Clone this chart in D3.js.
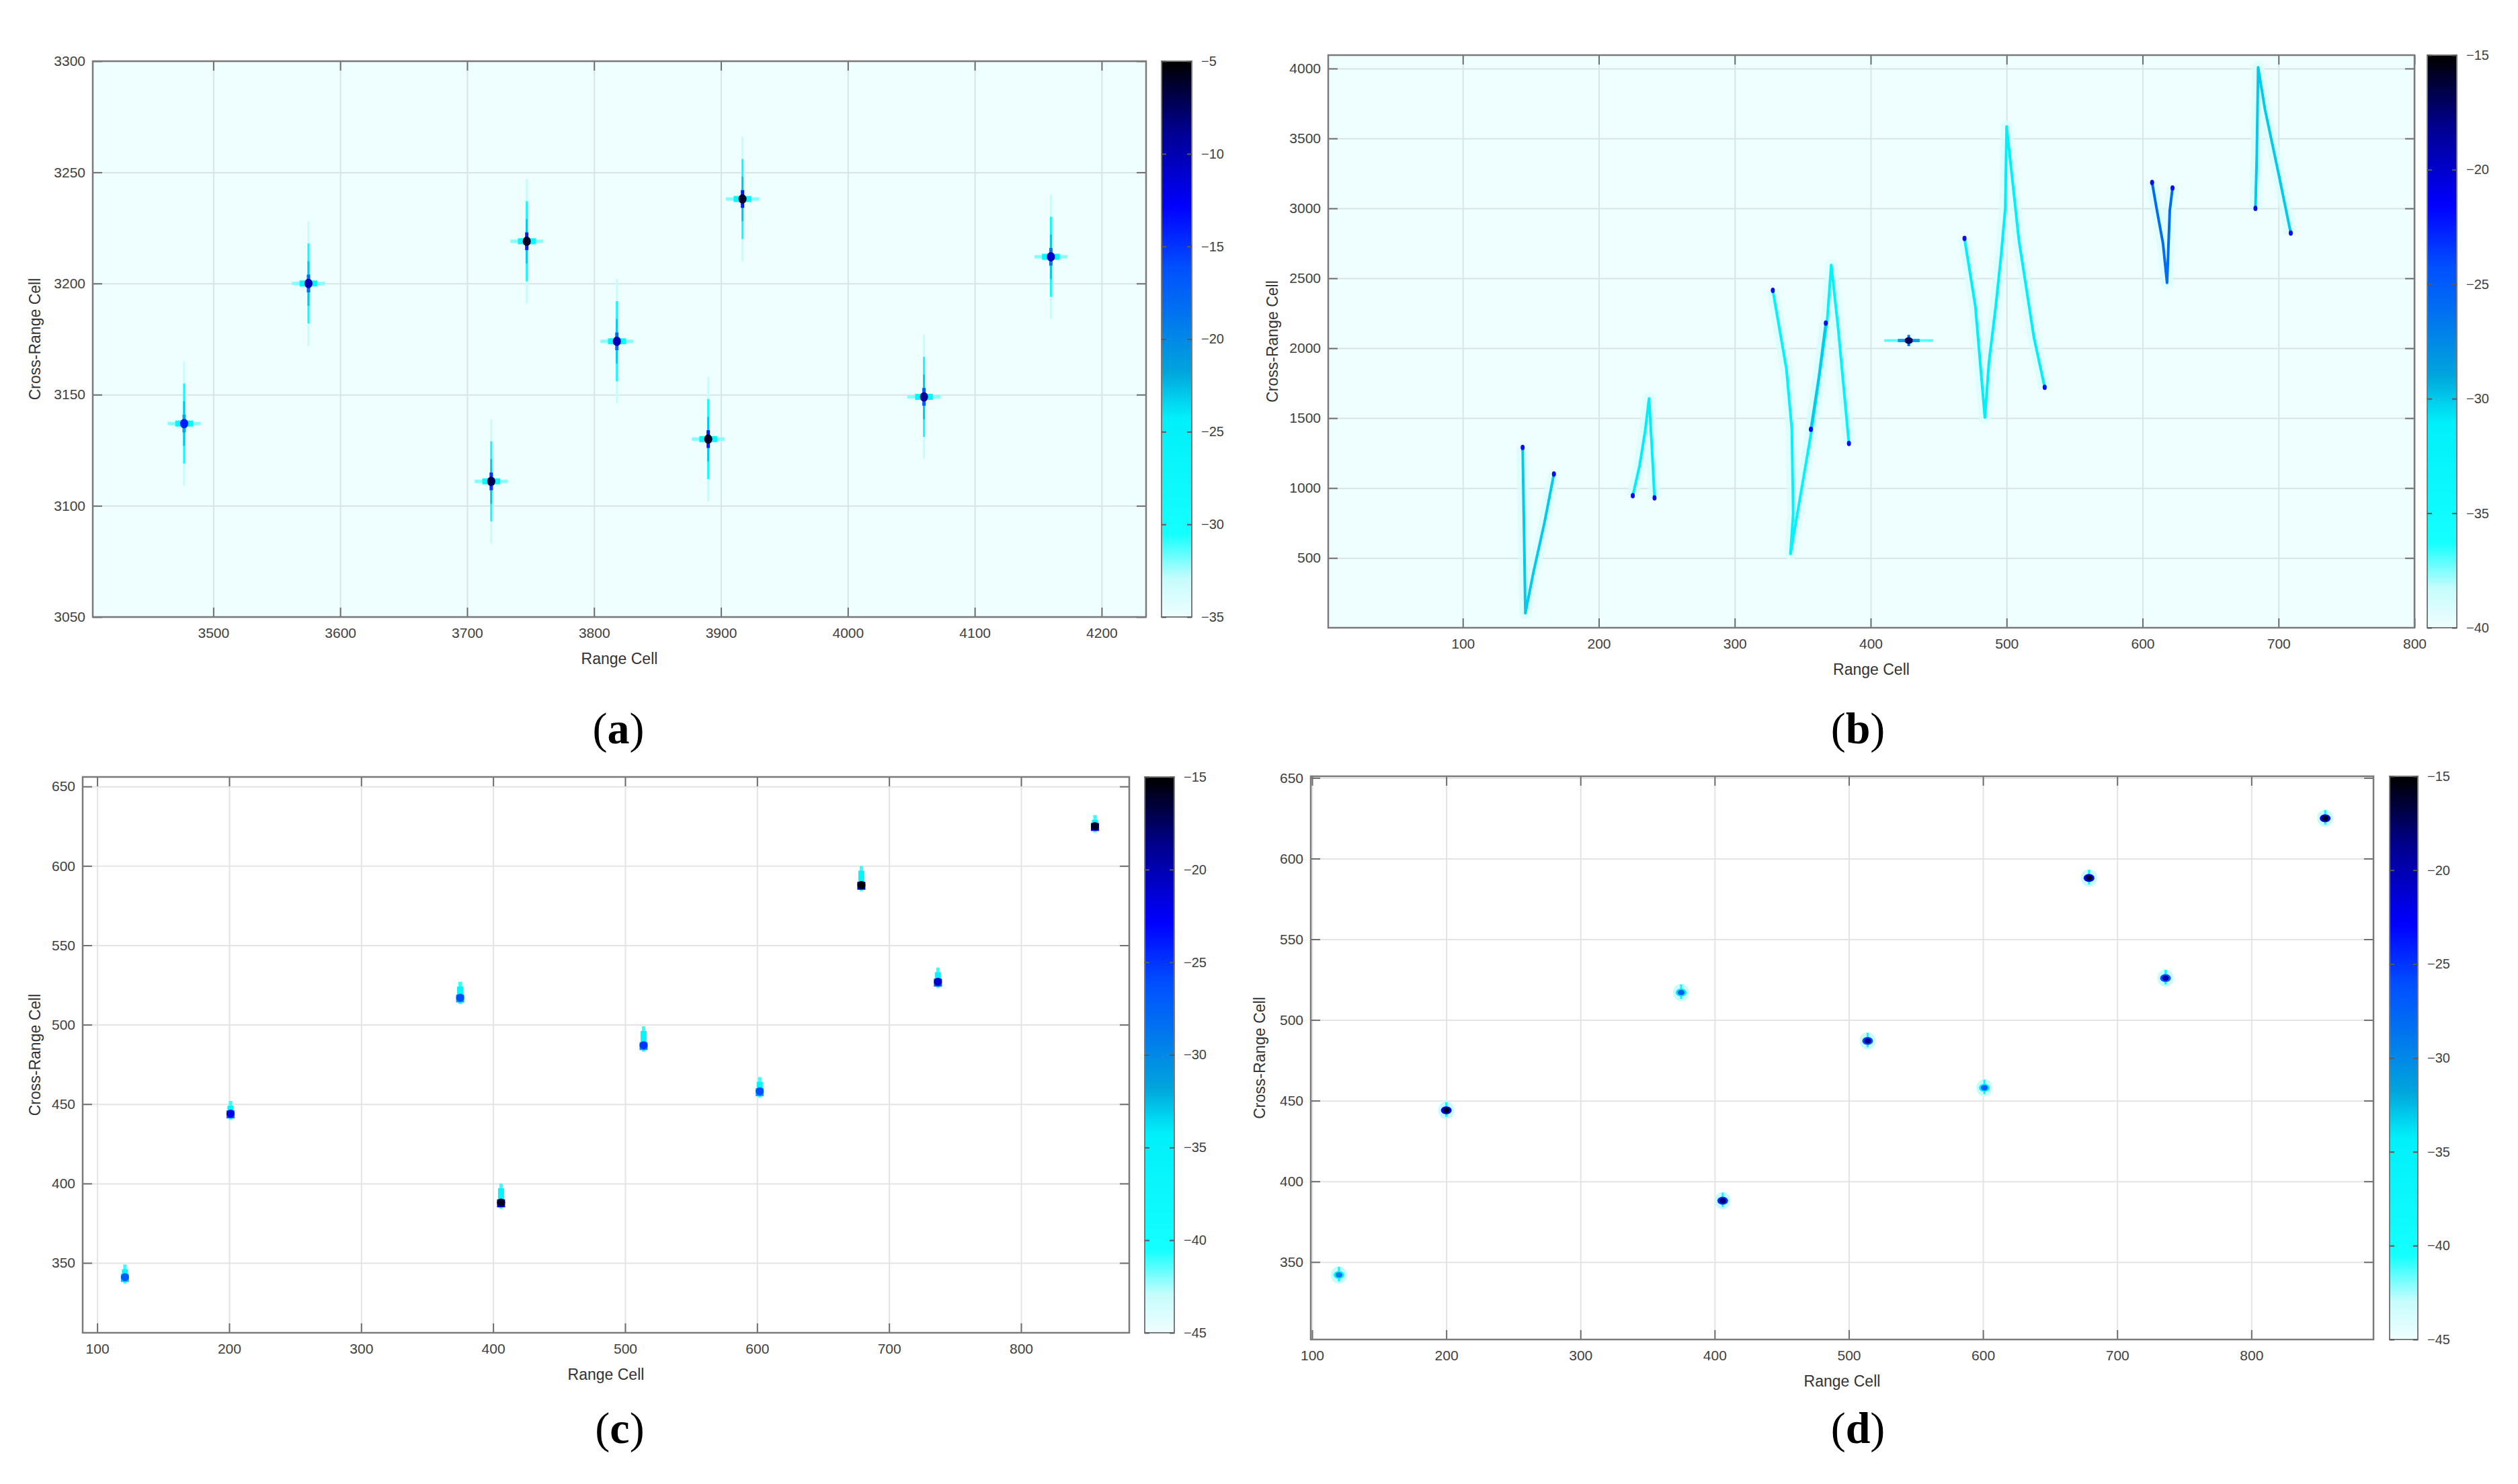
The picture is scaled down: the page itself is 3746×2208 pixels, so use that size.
<!DOCTYPE html>
<html>
<head>
<meta charset="utf-8">
<script src="https://cdn.jsdelivr.net/npm/d3@7"></script>
<style>
body { margin: 0; background: #fff; }
text { font-family: "Liberation Sans", Arial, sans-serif; }
</style>
</head>
<body>
<svg id="fig" width="3746" height="2208"></svg>
<script>
// ---------- values ----------
// (a) nine point targets, full scene
var aRange = [3477, 3575, 3719, 3747, 3818, 3890, 3917, 4060, 4160];
var aCross = [3137, 3200, 3111, 3219, 3174, 3130, 3238, 3149, 3212];
var aPeak  = [-14, -10, -7, -6, -10, -6, -6, -9, -11];

// (b) migrated traces (range cell, cross-range cell) and the one focused target
var bTraces = [
  [[144, 1290], [145, 700], [146, 105], [152, 400], [160, 750], [167, 1100]],
  [[225, 945], [230, 1160], [234, 1400], [237, 1640], [239, 1300], [241, 930]],
  [[328, 2414], [338, 1853], [342, 1422], [343, 819], [341, 529], [357, 1440], [368, 2198], [371, 2595], [376, 2150], [384, 1319]],
  [[356, 1420], [362, 1800], [367, 2180]],
  [[469, 2785], [477, 2300], [484, 1504], [487, 1900], [492, 2300], [496, 2670], [499, 3000], [500, 3585], [509, 2774], [520, 2081], [528, 1720]],
  [[607, 3185], [610, 3016], [615, 2750], [618, 2468], [620, 2984], [622, 3145]],
  [[683, 3000], [684, 3370], [685, 4008], [690, 3710], [700, 3250], [709, 2823]]
];
var bTraceLevel = [-30, -31, -32, -30, -31, -26, -30];
var bPoint = [428, 2055];
var bPointPeak = -17;

// (c) nine targets, first result
var cRange = [121, 201, 375, 406, 514, 602, 679, 737, 856];
var cCross = [341, 444, 517, 388, 487, 458, 588, 527, 625];
var cPeak  = [-27, -22, -26, -16, -25, -26, -15, -21, -16];
var cTail  = [5, 5, 7, 9, 9, 6, 9, 6, 4];

// (d) nine targets, second result
var dRange = [120, 200, 375, 406, 514, 601, 679, 736, 855];
var dCross = [342, 444, 517, 388, 487, 458, 588, 526, 625];
var dPeak  = [-29, -16, -27, -18, -19, -27, -16, -20, -16];

// axis ticks
var aXTicks = [3500, 3600, 3700, 3800, 3900, 4000, 4100, 4200];
var aYTicks = [3050, 3100, 3150, 3200, 3250, 3300];
var bXTicks = [100, 200, 300, 400, 500, 600, 700, 800];
var bYTicks = [500, 1000, 1500, 2000, 2500, 3000, 3500, 4000];
var cdXTicks = [100, 200, 300, 400, 500, 600, 700, 800];
var cdYTicks = [350, 400, 450, 500, 550, 600, 650];
var aCTicks = [-35, -30, -25, -20, -15, -10, -5];
var bCTicks = [-40, -35, -30, -25, -20, -15];
var cdCTicks = [-45, -40, -35, -30, -25, -20, -15];

// ---------- drawing ----------
var svg = d3.select("#fig");
var defs = svg.append("defs");
var fmt = d3.format("d");

// colour map: white-cyan -> cyan -> azure -> blue -> black
function colormap(dom) {
  var t = [0, 0.07, 0.15, 0.36, 0.44, 0.55, 0.63, 0.74, 0.88, 1];
  var cols = ["#f0fefe", "#c6fcfc", "#14ffff", "#00f0fa", "#00a6dc", "#0072f0", "#0050ff", "#0000ff", "#00008c", "#000000"];
  return d3.scaleLinear()
    .domain(t.map(function (v) { return dom[0] + v * (dom[1] - dom[0]); }))
    .range(cols)
    .clamp(true);
}

var panelCount = 0;
function panel(p) {
  panelCount++;
  var x = d3.scaleLinear().domain(p.xDomain).range([p.x0, p.x1]);
  var y = d3.scaleLinear().domain(p.yDomain).range([p.y1, p.y0]);
  var c = colormap(p.cDomain);
  var w = p.x1 - p.x0, h = p.y1 - p.y0;
  var g = svg.append("g");

  g.append("rect").attr("x", p.x0).attr("y", p.y0).attr("width", w).attr("height", h)
    .attr("fill", p.bg);

  // grid
  var grid = g.append("g").attr("class", "grid");
  grid.append("g").attr("transform", "translate(0," + p.y1 + ")")
    .call(d3.axisBottom(x).tickValues(p.xTicks).tickSize(-h).tickFormat(""));
  grid.append("g").attr("transform", "translate(" + p.x0 + ",0)")
    .call(d3.axisLeft(y).tickValues(p.yTicks).tickSize(-w).tickFormat(""));
  grid.selectAll(".domain").remove();
  grid.selectAll("line").attr("stroke", p.gridColor).attr("stroke-width", 2);

  // marks live in a clipped layer
  var id = "clip" + panelCount;
  defs.append("clipPath").attr("id", id).append("rect")
    .attr("x", p.x0).attr("y", p.y0).attr("width", w).attr("height", h);
  var marks = g.append("g").attr("clip-path", "url(#" + id + ")");

  // inside ticks on all four sides
  var tk = g.append("g");
  tk.append("g").attr("transform", "translate(0," + p.y1 + ")")
    .call(d3.axisBottom(x).tickValues(p.xTicks).tickSize(-14).tickFormat(""));
  tk.append("g").attr("transform", "translate(0," + p.y0 + ")")
    .call(d3.axisTop(x).tickValues(p.xTicks).tickSize(-14).tickFormat(""));
  tk.append("g").attr("transform", "translate(" + p.x0 + ",0)")
    .call(d3.axisLeft(y).tickValues(p.yTicks).tickSize(-14).tickFormat(""));
  tk.append("g").attr("transform", "translate(" + p.x1 + ",0)")
    .call(d3.axisRight(y).tickValues(p.yTicks).tickSize(-14).tickFormat(""));
  tk.selectAll(".domain").remove();
  tk.selectAll("line").attr("stroke", "#6e6e6e").attr("stroke-width", 2);

  // tick labels
  var lb = g.append("g");
  lb.append("g").attr("transform", "translate(0," + p.y1 + ")")
    .call(d3.axisBottom(x).tickValues(p.xTicks).tickSize(0).tickPadding(16).tickFormat(fmt));
  lb.append("g").attr("transform", "translate(" + p.x0 + ",0)")
    .call(d3.axisLeft(y).tickValues(p.yTicks).tickSize(0).tickPadding(11).tickFormat(fmt));
  lb.selectAll(".domain").remove();
  lb.selectAll("text").attr("font-size", 21).attr("fill", "#404040")
    .attr("font-family", "Liberation Sans, Arial, sans-serif");

  g.append("rect").attr("x", p.x0).attr("y", p.y0).attr("width", w).attr("height", h)
    .attr("fill", "none").attr("stroke", "#7a7a7a").attr("stroke-width", 2.5);

  // axis titles
  g.append("text").attr("x", (p.x0 + p.x1) / 2).attr("y", p.y1 + 70)
    .attr("text-anchor", "middle").attr("font-size", 23).attr("fill", "#333")
    .text("Range Cell");
  g.append("text")
    .attr("transform", "translate(" + (p.x0 - p.yTitleOff) + "," + ((p.y0 + p.y1) / 2) + ") rotate(-90)")
    .attr("text-anchor", "middle").attr("dominant-baseline", "central")
    .attr("font-size", 23).attr("fill", "#333")
    .text("Cross-Range Cell");

  // colour bar
  var cy = d3.scaleLinear().domain(p.cDomain).range([p.y1, p.y0]);
  var n = 300;
  var steps = d3.range(0, n);
  var cb = g.append("g");
  cb.selectAll("rect").data(steps).enter().append("rect")
    .attr("x", p.cb0).attr("width", p.cb1 - p.cb0)
    .attr("y", function (i) { return cy(p.cDomain[0] + (i + 1) * (p.cDomain[1] - p.cDomain[0]) / n); })
    .attr("height", (h / n) + 1)
    .attr("fill", function (i) { return c(p.cDomain[0] + (i + 0.5) * (p.cDomain[1] - p.cDomain[0]) / n); });
  cb.append("rect").attr("x", p.cb0).attr("y", p.y0).attr("width", p.cb1 - p.cb0).attr("height", h)
    .attr("fill", "none").attr("stroke", "#7a7a7a").attr("stroke-width", 2);
  var cbt = g.append("g");
  var cbr = cbt.append("g").attr("transform", "translate(" + p.cb1 + ",0)")
    .call(d3.axisRight(cy).tickValues(p.cTicks).tickSize(-7).tickPadding(14).tickFormat(fmt));
  cbt.append("g").attr("transform", "translate(" + p.cb0 + ",0)")
    .call(d3.axisLeft(cy).tickValues(p.cTicks).tickSize(-7).tickFormat(""));
  cbt.selectAll(".domain").remove();
  cbt.selectAll("line").attr("stroke", "#5a5a5a").attr("stroke-width", 2);
  cbr.selectAll("text").attr("font-size", 20).attr("fill", "#404040")
    .attr("font-family", "Liberation Sans, Arial, sans-serif");

  // sub-figure label, e.g. (a)
  var t = svg.append("text").attr("x", p.labelX).attr("y", p.labelY)
    .attr("text-anchor", "middle").attr("font-size", 66).attr("fill", "#000")
    .style("font-family", "'Liberation Serif', 'Times New Roman', serif");
  t.append("tspan").text("(");
  t.append("tspan").attr("font-weight", "bold").text(p.label);
  t.append("tspan").text(")");

  return { g: marks, x: x, y: y, c: c };
}

function barV(g, x, y, r, c0, c1, wpx, col) {
  g.append("rect").attr("x", x(r) - wpx / 2).attr("width", wpx)
    .attr("y", y(c1)).attr("height", y(c0) - y(c1)).attr("fill", col);
}
function barH(g, x, y, r0, r1, cc, hpx, col) {
  g.append("rect").attr("x", x(r0)).attr("width", x(r1) - x(r0))
    .attr("y", y(cc) - hpx / 2).attr("height", hpx).attr("fill", col);
}
function blob(g, x, y, r, cc, rx, ry, col) {
  g.append("ellipse").attr("cx", x(r)).attr("cy", y(cc)).attr("rx", rx).attr("ry", ry).attr("fill", col);
}

// ---- (a) ----
var pa = panel({
  x0: 138, x1: 1705, y0: 91, y1: 918, cb0: 1728, cb1: 1773,
  xDomain: [3405, 4235], yDomain: [3050, 3300], cDomain: [-35, -5],
  xTicks: aXTicks, yTicks: aYTicks, cTicks: aCTicks,
  bg: "#effefe", gridColor: "#d6e6e6", yTitleOff: 86,
  label: "a", labelX: 920, labelY: 1106
});
aRange.forEach(function (r, i) {
  var cc = aCross[i], g = pa.g, x = pa.x, y = pa.y, c = pa.c;
  barV(g, x, y, r, cc - 28, cc + 28, 3, c(-33));
  barV(g, x, y, r, cc - 18, cc + 18, 3, c(-29));
  barV(g, x, y, r, cc - 10, cc + 10, 3, c(-23));
  barH(g, x, y, r - 13, r + 13, cc, 5, c(-32));
  barH(g, x, y, r - 7, r + 7, cc, 9, c(-27));
  barV(g, x, y, r, cc - 4, cc + 4, 5, c(aPeak[i] - 8));
  blob(g, x, y, r, cc, 6, 7, c(aPeak[i]));
});

// ---- (b) ----
var pb = panel({
  x0: 1976, x1: 3592, y0: 82, y1: 934, cb0: 3611, cb1: 3655,
  xDomain: [1, 800], yDomain: [1, 4096], cDomain: [-40, -15],
  xTicks: bXTicks, yTicks: bYTicks, cTicks: bCTicks,
  bg: "#effefe", gridColor: "#d6e6e6", yTitleOff: 83,
  label: "b", labelX: 2764, labelY: 1106
});
var line = d3.line()
  .x(function (d) { return pb.x(d[0]); })
  .y(function (d) { return pb.y(d[1]); });
bTraces.forEach(function (tr, i) {
  pb.g.append("path").attr("d", line(tr)).attr("fill", "none")
    .attr("stroke", pb.c(-39)).attr("stroke-width", 18).attr("stroke-linejoin", "round")
    .attr("opacity", 0.7);
});
bTraces.forEach(function (tr, i) {
  pb.g.append("path").attr("d", line(tr)).attr("fill", "none")
    .attr("stroke", pb.c(bTraceLevel[i])).attr("stroke-width", 4).attr("stroke-linejoin", "round");
  [tr[0], tr[tr.length - 1]].forEach(function (d) {
    blob(pb.g, pb.x, pb.y, d[0], d[1], 3, 4, pb.c(-22));
  });
});
barH(pb.g, pb.x, pb.y, bPoint[0] - 18, bPoint[0] + 18, bPoint[1], 4, pb.c(-37));
barH(pb.g, pb.x, pb.y, bPoint[0] - 8, bPoint[0] + 8, bPoint[1], 5, pb.c(-29));
barV(pb.g, pb.x, pb.y, bPoint[0], bPoint[1] - 40, bPoint[1] + 40, 4, pb.c(-26));
blob(pb.g, pb.x, pb.y, bPoint[0], bPoint[1], 6, 5, pb.c(bPointPeak));

// ---- (c) ----
var pc = panel({
  x0: 123, x1: 1680, y0: 1156, y1: 1983, cb0: 1703, cb1: 1747,
  xDomain: [89, 882], yDomain: [306, 656], cDomain: [-45, -15],
  xTicks: cdXTicks, yTicks: cdYTicks, cTicks: cdCTicks,
  bg: "#ffffff", gridColor: "#e4e4e4", yTitleOff: 71,
  label: "c", labelX: 922, labelY: 2147
});
cRange.forEach(function (r, i) {
  var cc = cCross[i], g = pc.g, x = pc.x, y = pc.y, c = pc.c;
  barV(g, x, y, r, cc - 4, cc + cTail[i] + 3, 5, c(-41));
  barV(g, x, y, r, cc - 2, cc + cTail[i], 9, c(-36));
  barV(g, x, y, r, cc - 3, cc + 2, 12, c(cPeak[i] - 6));
  blob(g, x, y, r, cc, 6, 6, c(cPeak[i]));
});

// ---- (d) ----
var pd = panel({
  x0: 1950, x1: 3531, y0: 1155, y1: 1993, cb0: 3555, cb1: 3597,
  xDomain: [99, 891], yDomain: [302, 651], cDomain: [-45, -15],
  xTicks: cdXTicks, yTicks: cdYTicks, cTicks: cdCTicks,
  bg: "#ffffff", gridColor: "#e4e4e4", yTitleOff: 76,
  label: "d", labelX: 2764, labelY: 2147
});
dRange.forEach(function (r, i) {
  var cc = dCross[i], g = pd.g, x = pd.x, y = pd.y, c = pd.c;
  blob(g, x, y, r, cc, 12, 13, c(-43));
  barV(g, x, y, r, cc - 4, cc + 5, 3, c(-37));
  blob(g, x, y, r, cc, 8, 6, c(dPeak[i] - 7));
  blob(g, x, y, r, cc, 5, 4, c(dPeak[i]));
});
</script>
</body>
</html>
